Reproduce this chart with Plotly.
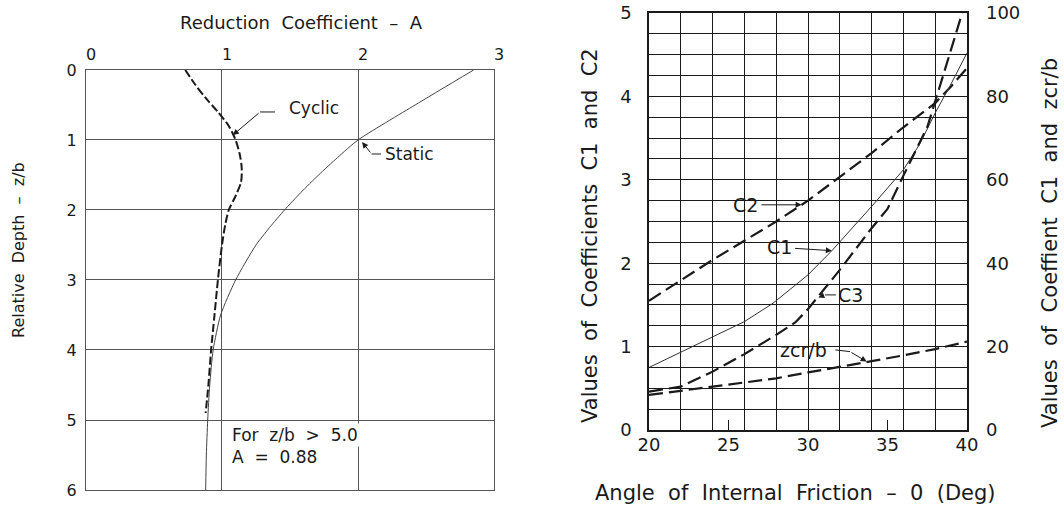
import plotly.graph_objects as go

# ---- Left panel: reduction coefficient A versus relative depth z/b ----
depth_static = [0, 0.5, 1.0, 1.25, 1.5, 1.75, 2.0, 2.25, 2.5, 3.0, 3.5, 4.0, 4.5, 5.0, 5.5, 6.0]
coef_static = [2.85, 2.42, 2.0, 1.85, 1.71, 1.58, 1.46, 1.35, 1.25, 1.10, 0.99, 0.935, 0.91, 0.895, 0.885, 0.88]

depth_cyclic = [0, 0.2, 0.4, 0.6, 0.8, 1.0, 1.2, 1.4, 1.6, 1.8, 2.0, 2.2, 2.5, 3.0, 3.5, 4.0, 4.5, 4.9]
coef_cyclic = [0.73, 0.80, 0.88, 0.97, 1.05, 1.10, 1.13, 1.145, 1.14, 1.10, 1.05, 1.025, 1.0, 0.97, 0.945, 0.92, 0.90, 0.88]

coef_ticks = [0, 1, 2, 3]
depth_ticks = [0, 1, 2, 3, 4, 5, 6]

# ---- Right panel: coefficients versus angle of internal friction ----
phi_c1 = [20, 22, 24, 26, 27.8, 30, 31.5, 34, 36, 37, 38, 39, 40]
c1 = [0.75, 0.93, 1.12, 1.30, 1.52, 1.86, 2.15, 2.68, 3.12, 3.42, 3.80, 4.15, 4.52]

phi_c2 = [20, 22, 24, 26, 28, 30, 32, 34, 36, 37, 38, 39, 40]
c2 = [1.55, 1.80, 2.04, 2.27, 2.50, 2.75, 3.03, 3.32, 3.63, 3.77, 3.92, 4.12, 4.34]

phi_c3 = [20, 22, 24, 26, 28, 29.2, 30, 32, 34, 35, 36, 37.5, 38.5, 39.7]
c3 = [9.2, 10.4, 14.0, 18.2, 22.8, 25.8, 29.0, 38.4, 48.4, 53.0, 61.0, 72.6, 85.0, 100.0]

phi_zcr = [20, 22, 24, 26, 28, 30, 32, 34, 36, 38, 40]
zcr_b = [8.4, 9.4, 10.4, 11.3, 12.4, 13.8, 15.1, 16.5, 17.9, 19.4, 21.2]

phi_ticks = [20, 25, 30, 35, 40]
phi_grid = [20, 22, 24, 26, 28, 30, 32, 34, 36, 38, 40]
coef_left_ticks = [0, 1, 2, 3, 4, 5]
coef_right_ticks = [0, 20, 40, 60, 80, 100]

INK = "#1a1a1a"
FONT = "DejaVu Sans"
S2 = "\u00a0\u00a0"

fig = go.Figure()

fig.add_trace(go.Scatter(x=coef_static, y=depth_static, mode="lines",
                         line=dict(color="#444", width=1, shape="spline", smoothing=0.6),
                         xaxis="x", yaxis="y", showlegend=False, hoverinfo="skip"))
fig.add_trace(go.Scatter(x=coef_cyclic, y=depth_cyclic, mode="lines",
                         line=dict(color=INK, width=2, dash="8px,3px", shape="spline", smoothing=0.8),
                         xaxis="x", yaxis="y", showlegend=False, hoverinfo="skip"))

dash_r = "14px,6px"
fig.add_trace(go.Scatter(x=phi_c2, y=c2, mode="lines",
                         line=dict(color=INK, width=2.2, dash=dash_r),
                         xaxis="x2", yaxis="y2", showlegend=False, hoverinfo="skip"))
fig.add_trace(go.Scatter(x=phi_c1, y=c1, mode="lines",
                         line=dict(color="#333", width=1),
                         xaxis="x2", yaxis="y2", showlegend=False, hoverinfo="skip"))
fig.add_trace(go.Scatter(x=phi_c3, y=c3, mode="lines",
                         line=dict(color=INK, width=2.2, dash=dash_r),
                         xaxis="x2", yaxis="y3", showlegend=False, hoverinfo="skip"))
fig.add_trace(go.Scatter(x=phi_zcr, y=zcr_b, mode="lines",
                         line=dict(color=INK, width=2.2, dash=dash_r),
                         xaxis="x2", yaxis="y3", showlegend=False, hoverinfo="skip"))
# carrier for the labelled friction-angle axis
fig.add_trace(go.Scatter(x=[phi_ticks[0]], y=[coef_left_ticks[0]], mode="markers",
                         marker=dict(opacity=0), xaxis="x3", yaxis="y2",
                         showlegend=False, hoverinfo="skip"))

left_axis_common = dict(showline=True, mirror=True, linecolor="#555", linewidth=1,
                        showgrid=True, gridcolor="#555", gridwidth=1, zeroline=False,
                        ticks="", tickfont=dict(family=FONT, size=16, color=INK))
right_line = dict(showline=True, mirror=True, linecolor=INK, linewidth=1.5, zeroline=False)

fig.update_layout(
    width=1064, height=506,
    margin=dict(l=0, r=0, t=0, b=0, pad=0, autoexpand=False),
    paper_bgcolor="white", plot_bgcolor="white", showlegend=False,
    font=dict(family=FONT, color=INK),
    xaxis=dict(domain=[0.0808, 0.4643], anchor="y", side="top", range=[0, 3],
               tickvals=coef_ticks, ticklabelstandoff=3, ticklabelshift=5, **left_axis_common),
    yaxis=dict(domain=[0.0316, 0.8617], anchor="x", range=[6, 0],
               tickvals=depth_ticks, ticklabelstandoff=5, **left_axis_common),
    xaxis2=dict(domain=[0.6100, 0.9088], anchor="y2", range=[20, 40],
                tickvals=phi_grid, showticklabels=False, ticks="",
                showgrid=True, gridcolor=INK, gridwidth=1.2, **right_line),
    xaxis3=dict(overlaying="x2", anchor="y2", side="bottom", range=[20, 40],
                tickvals=phi_ticks, ticks="inside", ticklen=10, tickwidth=1,
                tickcolor=INK, showgrid=False, showline=False, zeroline=False,
                ticklabelstandoff=2,
                tickfont=dict(family=FONT, size=18, color=INK)),
    yaxis2=dict(domain=[0.1502, 0.9743], anchor="x2", range=[0, 5],
                tickvals=coef_left_ticks, ticks="", showgrid=True, gridcolor=INK,
                gridwidth=1.2, ticklabelstandoff=12,
                minor=dict(dtick=0.25, tick0=0, showgrid=True, gridcolor=INK, gridwidth=1.2),
                tickfont=dict(family=FONT, size=18, color=INK), **right_line),
    yaxis3=dict(overlaying="y2", anchor="x2", side="right", range=[0, 100],
                tickvals=coef_right_ticks, ticks="", showgrid=False, showline=False,
                zeroline=False, ticklabelstandoff=18,
                tickfont=dict(family=FONT, size=18, color=INK)),
)

titles = [
    dict(text=f"Reduction{S2}Coefficient{S2}–{S2}A", x=0.2838, y=0.9565, size=18, angle=0),
    dict(text=f"Relative{S2}Depth{S2}–{S2}z/b", x=0.0179, y=0.506, size=16, angle=-90),
    dict(text=f"Values{S2}of{S2}Coefficients{S2}C1{S2}and{S2}C2", x=0.5545, y=0.5356, size=21, angle=-90),
    dict(text=f"Values{S2}of{S2}Coeffient{S2}C1{S2}and{S2}zcr/b", x=0.9868, y=0.5198, size=21, angle=-90),
    dict(text=f"Angle{S2}of{S2}Internal{S2}Friction{S2}–{S2}0{S2}(Deg)", x=0.7472, y=0.0257, size=21, angle=0),
]
for t in titles:
    fig.add_annotation(text=t["text"], x=t["x"], y=t["y"], xref="paper", yref="paper",
                       showarrow=False, textangle=t["angle"], xanchor="center", yanchor="middle",
                       font=dict(family=FONT, size=t["size"], color=INK))

# note below z/b = 5
fig.add_annotation(text=f"For{S2}z/b{S2}>{S2}5.0", x=1.06, y=5.21, xref="x", yref="y",
                   xanchor="left", yanchor="middle", showarrow=False, bgcolor="white",
                   font=dict(family=FONT, size=17, color=INK))
fig.add_annotation(text=f"A{S2}={S2}0.88", x=1.06, y=5.53, xref="x", yref="y",
                   xanchor="left", yanchor="middle", showarrow=False,
                   font=dict(family=FONT, size=17, color=INK))

# straight callouts: (text, tip x, tip y, text x, text y, axis refs, font size)
callouts = [
    ("C2", 29.6, 2.70, 26.07, 2.70, "x2", "y2", 19),
    ("C1", 31.5, 2.15, 28.18, 2.19, "x2", "y2", 19),
]
for text, tx, ty, lx, ly, xr, yr, fs in callouts:
    fig.add_annotation(text=text, x=tx, y=ty, ax=lx, ay=ly, xref=xr, yref=yr,
                       axref=xr, ayref=yr, showarrow=True, arrowhead=2, arrowsize=1.2,
                       arrowwidth=1, arrowcolor=INK, standoff=0, startstandoff=2,
                       font=dict(family=FONT, size=fs, color=INK))

# bent callouts: label, label position, leader start, bend, arrow tip
bent = [
    ("Cyclic", (1.68, 0.54), (1.39, 0.60), (1.28, 0.60), (1.08, 0.93), "x", "y", 17),
    ("Static", (2.375, 1.20), (2.17, 1.20), (2.10, 1.20), (2.03, 1.03), "x", "y", 17),
    ("C3", (32.66, 1.62), (31.76, 1.62), (31.07, 1.62), (30.65, 1.59), "x2", "y2", 19),
    ("zcr/b", (29.69, 0.96), (31.72, 0.96), (32.64, 0.94), (33.69, 0.82), "x2", "y2", 19),
]
for text, (lx, ly), (sx, sy), (bx, by), (tx, ty), xr, yr, fs in bent:
    fig.add_annotation(text=text, x=lx, y=ly, xref=xr, yref=yr, showarrow=False,
                       xanchor="center", yanchor="middle",
                       font=dict(family=FONT, size=fs, color=INK))
    fig.add_shape(type="line", x0=sx, y0=sy, x1=bx, y1=by, xref=xr, yref=yr,
                  line=dict(color=INK, width=1))
    fig.add_annotation(text="", x=tx, y=ty, ax=bx, ay=by, xref=xr, yref=yr,
                       axref=xr, ayref=yr, showarrow=True, arrowhead=2, arrowsize=1.2,
                       arrowwidth=1, arrowcolor=INK, standoff=0, startstandoff=0)

fig.write_html("out.html")
